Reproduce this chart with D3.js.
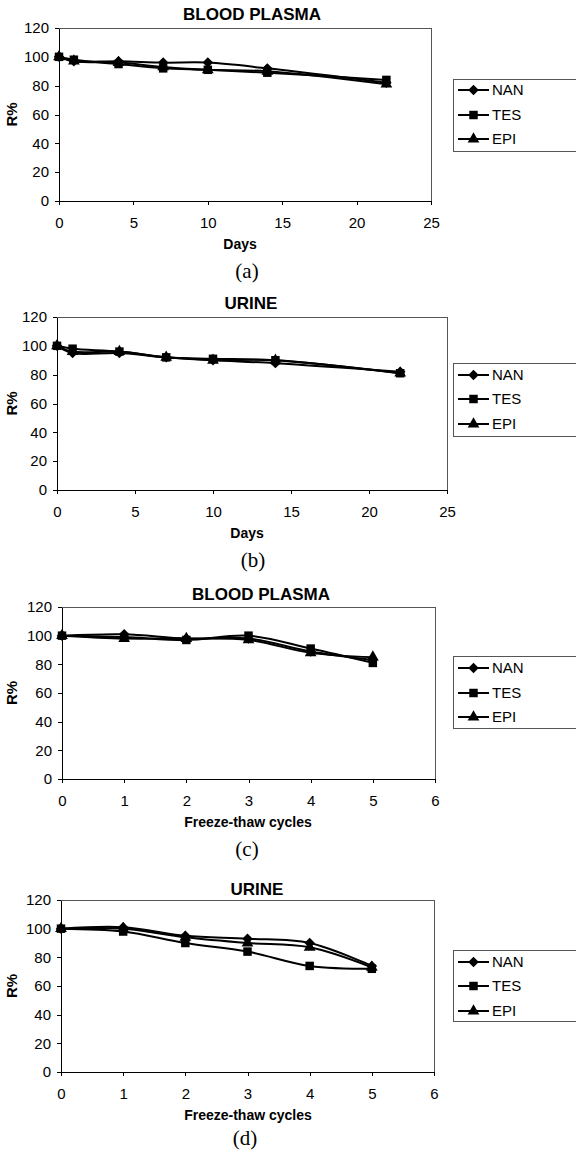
<!DOCTYPE html>
<html lang="en">
<head>
    <meta charset="UTF-8">
    <title>Stability of NAN, TES and EPI</title>
    <script src="https://d3js.org/d3.v7.min.js"></script>
    <style>
        body {
            margin: 0;
            background-color: white;
        }
        .tick text {
            font-family: 'Liberation Sans', Arial, sans-serif;
            font-size: 15px;
            fill: #000;
        }
        .axis path, .axis line {
            stroke: #000;
            stroke-width: 1;
            shape-rendering: crispEdges;
        }
        .title, .axis-title {
            font-family: 'Liberation Sans', Arial, sans-serif;
            font-weight: bold;
            fill: #000;
        }
        .caption {
            font-family: 'Liberation Serif', 'Times New Roman', serif;
            font-size: 21px;
            fill: #000;
        }
        .legend text {
            font-family: 'Liberation Sans', Arial, sans-serif;
            font-size: 15px;
            fill: #000;
        }
    </style>
</head>
<body>
<svg width="576" height="1152" id="chart"></svg>
<script>
    // Data
    const seriesNames = ["NAN", "TES", "EPI"];
    const days = [0, 1, 4, 7, 10, 14, 22];
    const cycles = [0, 1, 2, 3, 4, 5];
    const yTicks = [0, 20, 40, 60, 80, 100, 120];

    // (a) blood plasma, days
    const plasmaDaysNAN = [100, 97, 97, 96, 96, 92, 82];
    const plasmaDaysTES = [100, 98, 95, 92, 91, 89, 84];
    const plasmaDaysEPI = [100, 97, 96, 93, 91, 90, 81];
    // (b) urine, days
    const urineDaysNAN = [100, 95, 95, 92, 90, 88, 82];
    const urineDaysTES = [100, 98, 96, 92, 91, 90, 81];
    const urineDaysEPI = [100, 96, 96, 92, 90, 90, 81];
    // (c) blood plasma, freeze-thaw cycles
    const plasmaCyclesNAN = [100, 101, 98, 98, 89, 83];
    const plasmaCyclesTES = [100, 99, 97, 100, 91, 81];
    const plasmaCyclesEPI = [100, 98, 98, 97, 88, 85];
    // (d) urine, freeze-thaw cycles
    const urineCyclesNAN = [100, 101, 95, 93, 90, 74];
    const urineCyclesTES = [100, 98, 90, 84, 74, 72];
    const urineCyclesEPI = [100, 100, 94, 90, 87, 73];

    // Panel layout
    const panels = [
        { title: "BLOOD PLASMA", xTitle: "Days", caption: "(a)", x: days, xMax: 25, xStep: 5,
          values: [plasmaDaysNAN, plasmaDaysTES, plasmaDaysEPI],
          left: 59, right: 431, top: 28, bottom: 201, titleX: 252, titleY: 14, xTitleX: 240, capX: 247, capY: 270,
          legTop: 79, legBottom: 151, legRows: [90, 115, 139] },
        { title: "URINE", xTitle: "Days", caption: "(b)", x: days, xMax: 25, xStep: 5,
          values: [urineDaysNAN, urineDaysTES, urineDaysEPI],
          left: 57, right: 447, top: 317, bottom: 490, titleX: 251, titleY: 303, xTitleX: 247, capX: 253, capY: 559,
          legTop: 363, legBottom: 436, legRows: [375, 399, 424] },
        { title: "BLOOD PLASMA", xTitle: "Freeze-thaw cycles", caption: "(c)", x: cycles, xMax: 6, xStep: 1,
          values: [plasmaCyclesNAN, plasmaCyclesTES, plasmaCyclesEPI],
          left: 62, right: 435, top: 607, bottom: 779, titleX: 261, titleY: 594, xTitleX: 248, capX: 247, capY: 848,
          legTop: 656, legBottom: 728, legRows: [668, 693, 717] },
        { title: "URINE", xTitle: "Freeze-thaw cycles", caption: "(d)", x: cycles, xMax: 6, xStep: 1,
          values: [urineCyclesNAN, urineCyclesTES, urineCyclesEPI],
          left: 61, right: 434, top: 900, bottom: 1072, titleX: 257, titleY: 889, xTitleX: 248, capX: 245, capY: 1137,
          legTop: 950, legBottom: 1021, legRows: [962, 986, 1011] }
    ];

    const symbols = [d3.symbolDiamond2, d3.symbolSquare, d3.symbolTriangle];
    const symbolSizes = [70, 72, 60];

    const svg = d3.select("#chart");

    panels.forEach(p => {
        const g = svg.append("g");

        const xScale = d3.scaleLinear().domain([0, p.xMax]).range([p.left, p.right]);
        const yScale = d3.scaleLinear().domain([0, 120]).range([p.bottom, p.top]);

        // Plot area border
        g.append("rect")
            .attr("x", p.left).attr("y", p.top)
            .attr("width", p.right - p.left).attr("height", p.bottom - p.top)
            .attr("fill", "none").attr("stroke", "#555").attr("stroke-width", 1)
            .attr("shape-rendering", "crispEdges");

        // Axes
        g.append("g")
            .attr("class", "axis")
            .attr("transform", `translate(0, ${p.bottom})`)
            .call(d3.axisBottom(xScale)
                .tickValues(d3.range(0, p.xMax + 0.001, p.xStep))
                .tickFormat(d3.format("d"))
                .tickSize(4).tickPadding(12).tickSizeOuter(0))
            .call(a => a.selectAll("text").attr("dy", "0.71em"));

        g.append("g")
            .attr("class", "axis")
            .attr("transform", `translate(${p.left}, 0)`)
            .call(d3.axisLeft(yScale).tickValues(yTicks).tickSize(4).tickPadding(6).tickSizeOuter(0));

        // Titles
        g.append("text").attr("class", "title")
            .attr("x", p.titleX).attr("y", p.titleY).attr("dy", "0.36em")
            .attr("text-anchor", "middle").style("font-size", "17px")
            .text(p.title);

        g.append("text").attr("class", "axis-title")
            .attr("x", p.xTitleX).attr("y", p.bottom + 43).attr("dy", "0.36em")
            .attr("text-anchor", "middle").style("font-size", "14px")
            .text(p.xTitle);

        g.append("text").attr("class", "axis-title")
            .attr("transform", `translate(12, ${(p.top + p.bottom) / 2}) rotate(-90)`)
            .attr("dy", "0.36em")
            .attr("text-anchor", "middle").style("font-size", "15px")
            .text("R%");

        g.append("text").attr("class", "caption")
            .attr("x", p.capX).attr("y", p.capY).attr("dy", "0.36em")
            .attr("text-anchor", "middle")
            .text(p.caption);

        // Series lines (smoothed) and markers
        const line = d3.line()
            .x(d => xScale(d[0]))
            .y(d => yScale(d[1]))
            .curve(d3.curveCatmullRom.alpha(0.5));

        p.values.forEach((vals, i) => {
            const pts = p.x.map((x, j) => [x, vals[j]]);
            g.append("path")
                .attr("d", line(pts))
                .attr("fill", "none")
                .attr("stroke", "#000")
                .attr("stroke-width", 2);

            g.selectAll(null)
                .data(pts)
                .enter()
                .append("path")
                .attr("transform", d => `translate(${xScale(d[0])}, ${yScale(d[1])})`)
                .attr("d", d3.symbol().type(symbols[i]).size(symbolSizes[i]))
                .attr("fill", "#000");
        });

        // Legend
        const leg = g.append("g").attr("class", "legend");
        leg.append("rect")
            .attr("x", 453).attr("y", p.legTop)
            .attr("width", 140).attr("height", p.legBottom - p.legTop)
            .attr("fill", "white").attr("stroke", "#555").attr("stroke-width", 1)
            .attr("shape-rendering", "crispEdges");

        seriesNames.forEach((name, i) => {
            const y = p.legRows[i];
            leg.append("line")
                .attr("x1", 458).attr("x2", 489).attr("y1", y).attr("y2", y)
                .attr("stroke", "#000").attr("stroke-width", 2);
            leg.append("path")
                .attr("transform", `translate(473.5, ${y})`)
                .attr("d", d3.symbol().type(symbols[i]).size(symbolSizes[i]))
                .attr("fill", "#000");
            leg.append("text")
                .attr("x", 492).attr("y", y).attr("dy", "0.36em")
                .text(name);
        });
    });
</script>
</body>
</html>
